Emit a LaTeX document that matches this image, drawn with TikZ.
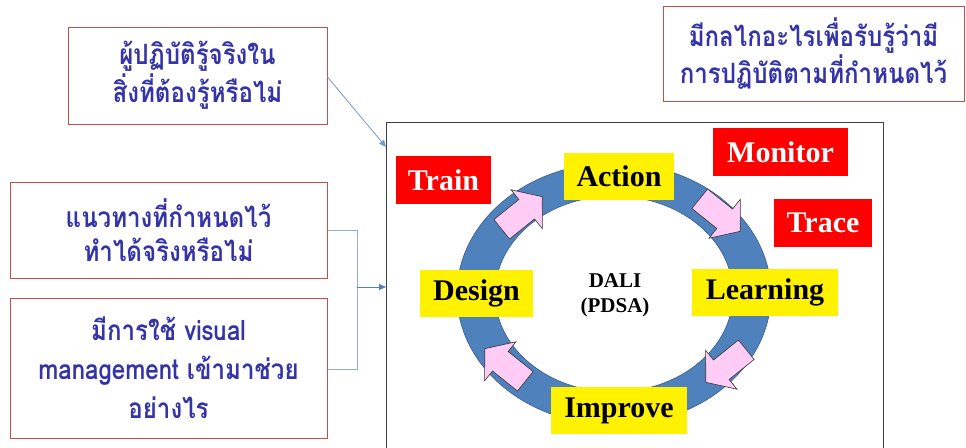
\documentclass[tikz,border=0pt]{standalone}
\usepackage{fontspec}
\setmainfont{Liberation Serif}
\newfontfamily\thaifont[Script=Thai, FakeStretch=0.86]{Loma}
\usetikzlibrary{arrows.meta}
\definecolor{thaiblue}{HTML}{3434A8}
\definecolor{boxred}{HTML}{C0504D}
\definecolor{ringblue}{HTML}{4F81BD}
\definecolor{ringedge}{HTML}{385D8A}
\definecolor{pinkfill}{HTML}{FFCCF5}
\definecolor{linkblue}{HTML}{8EAFD0}
\tikzset{
  qbox/.style={draw=boxred, line width=0.8pt, fill=white, align=center,
    font=\thaifont\bfseries\fontsize{28}{38}\selectfont, text=thaiblue, inner sep=0pt},
  ylab/.style={fill=yellow, inner sep=0pt, font=\bfseries\fontsize{30}{30}\selectfont},
  rlab/.style={fill=red, text=white, inner sep=0pt, font=\bfseries\fontsize{30}{30}\selectfont},
  blockarrow/.style={fill=pinkfill, draw=black!80, line width=0.6pt, line join=miter},
  link/.style={draw=linkblue, line width=0.8pt},
  linkarrow/.style={draw=ringblue, line width=0.8pt, -{Triangle[length=7pt,width=6pt]}}
}
\newcommand{\pinkarrow}[3]{% x, y, visual angle
  \draw[blockarrow, shift={(#1,#2)}, rotate=#3]
    (-26,-12.5) -- (6,-12.5) -- (6,-25) -- (26,0) -- (6,25) -- (6,12.5) -- (-26,12.5) -- cycle;
}
\begin{document}
\begin{tikzpicture}[x=1pt,y=-1pt]
\useasboundingbox (0,0) rectangle (966,447);
\fill[white] (0,0) rectangle (966,447);

% question boxes
\node[qbox, minimum width=259pt, minimum height=97pt] (q1) at (197.5,75.5)
  {ผู้ปฏิบัติรู้จริงใน\\สิ่งที่ต้องรู้หรือไม่};
\node[qbox, minimum width=317pt, minimum height=96pt,
  font=\thaifont\bfseries\fontsize{28}{34}\selectfont] (q2) at (168.5,230)
  {แนวทางที่กำหนดไว้\\ทำได้จริงหรือไม่};
\node[qbox, minimum width=317pt, minimum height=140pt,
  font=\thaifont\bfseries\fontsize{28}{39}\selectfont] (q3) at (168.5,368)
  {มีการใช้ visual\\management เข้ามาช่วย\\อย่างไร};
\node[qbox, minimum width=301pt, minimum height=95pt,
  font=\thaifont\bfseries\fontsize{28}{37}\selectfont] (q4) at (813.5,53.5)
  {มีกลไกอะไรเพื่อรับรู้ว่ามี\\การปฏิบัติตามที่กำหนดไว้};

% frame
\coordinate (fbl) at (386,450);
\coordinate (ftl) at (386,122);
\coordinate (ftr) at (883,122);
\coordinate (fbr) at (883,450);
\draw[black!75, line width=1pt] (fbl) -- (ftl) -- (ftr) -- (fbr);

% connectors
\coordinate (a1) at (327.5,77);
\coordinate (a1e) at (386,147);
\draw[linkarrow, draw=ringblue!80] (a1) -- (a1e);
\coordinate (b2) at (327.5,230);
\coordinate (b3) at (327.5,369);
\coordinate (bj) at (357,287);
\coordinate (be) at (386,287);
\draw[link] (b2) -- (357,230) -- (357,369) -- (b3);
\draw[linkarrow] (bj) -- (be);

% ring
\fill[ringblue, draw=ringedge, line width=0.6pt, even odd rule]
  (614,294) ellipse [x radius=157, y radius=131]
  (614,294) ellipse [x radius=119, y radius=98];

% pink arrows
\pinkarrow{522}{213}{38.8}
\pinkarrow{720}{215}{-38.8}
\pinkarrow{726}{366}{218.8}
\pinkarrow{505}{365}{141.2}

% center text
\node[font=\bfseries\fontsize{21}{25}\selectfont, align=center] (dali) at (615,295)
  {DALI\\(PDSA)};

% stage labels
\node[ylab, minimum width=110pt, minimum height=47pt] (action) at (619,176.5) {Action};
\node[ylab, minimum width=113pt, minimum height=47pt] (design) at (476.5,293.5) {Design};
\node[ylab, minimum width=146pt, minimum height=47pt] (learning) at (765,292.5) {Learning};
\node[ylab, minimum width=136pt, minimum height=47pt] (improve) at (619,410.5) {Improve};

% red labels
\node[rlab, minimum width=95pt, minimum height=48pt] (train) at (443.5,180) {Train};
\node[rlab, minimum width=135pt, minimum height=48pt] (monitor) at (780.5,152) {Monitor};
\node[rlab, minimum width=98pt, minimum height=48pt] (trace) at (823,223) {Trace};
\end{tikzpicture}
\end{document}
